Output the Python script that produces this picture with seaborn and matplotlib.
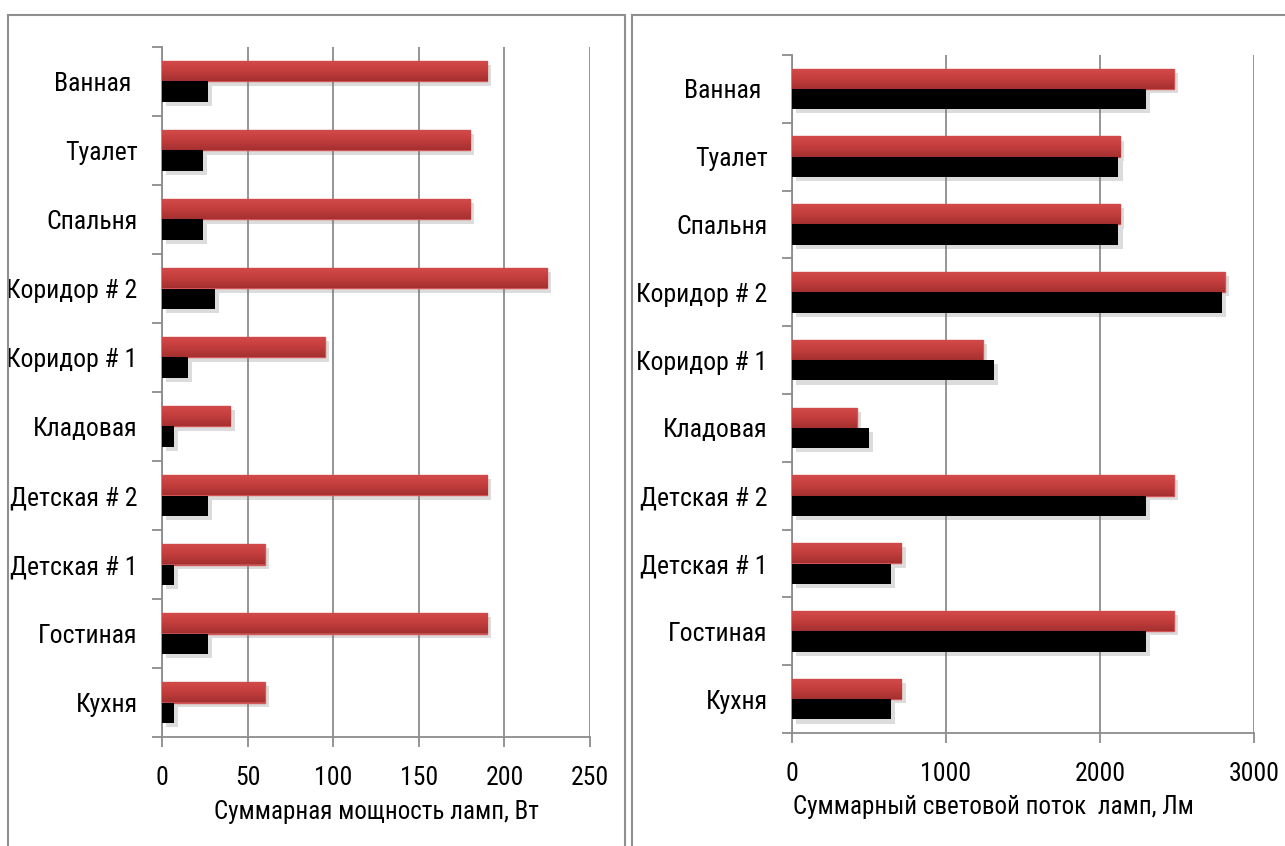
import numpy as np
import pandas as pd
import matplotlib
matplotlib.use('Agg')
import matplotlib.pyplot as plt
import matplotlib.patheffects as pe
from matplotlib.colors import LinearSegmentedColormap
from matplotlib.patches import Rectangle
from matplotlib import font_manager
import seaborn as sns

# Data
rooms = ['Ванная ', 'Туалет', 'Спальня', 'Коридор # 2', 'Коридор # 1',
         'Кладовая', 'Детская # 2', 'Детская # 1', 'Гостиная', 'Кухня']
series = ['Лампы накаливания', 'Светодиодные лампы']
power_incand = [190, 180, 180, 225, 95, 40, 190, 60, 190, 60]
power_led = [27, 24, 24, 31, 15, 7, 27, 7, 27, 7]
flux_incand = [2480, 2130, 2130, 2810, 1240, 420, 2480, 710, 2480, 710]
flux_led = [2300, 2120, 2120, 2790, 1310, 500, 2300, 640, 2300, 640]
power_ticks = [0, 50, 100, 150, 200, 250]
flux_ticks = [0, 1000, 2000, 3000]

sns.set_style('white')

# look for a narrow sans font (the original uses Arial Narrow)
fonts = font_manager.fontManager.ttflist
names = {f.name for f in fonts}
stretch = 'normal'
family = None
for cand in ['Liberation Sans Narrow', 'Arial Narrow', 'Roboto Condensed',
             'Open Sans Condensed', 'DejaVu Sans Condensed', 'Noto Sans Condensed']:
    if cand in names:
        family = cand
        break
if family is None:
    for f in fonts:
        if f.name in ('Roboto', 'Noto Sans', 'Open Sans', 'DejaVu Sans', 'Liberation Sans') \
                and str(f.stretch) in ('condensed', 'semi-condensed', '300', '400', '500') \
                and f.style == 'normal' and f.weight in (400, 'normal', 'regular'):
            family = f.name
            stretch = f.stretch
            break
if family is None:
    family = 'Liberation Sans'
    fs = 15
else:
    fs = 18.5
plt.rcParams['font.family'] = [family, 'DejaVu Sans']
plt.rcParams['font.stretch'] = stretch
plt.rcParams['text.color'] = 'black'
plt.rcParams['xtick.color'] = 'black'
plt.rcParams['ytick.color'] = 'black'

GRID = '#8c8c8c'
RED = '#c43e3e'
red_grad = LinearSegmentedColormap.from_list('red_grad', ['#d44a4a', '#c43e3e', '#a53030'])


def long_table(a, b):
    return pd.DataFrame({
        'room': rooms * 2,
        'kind': [series[0]] * len(rooms) + [series[1]] * len(rooms),
        'value': list(a) + list(b),
    })


def draw(ax, df, ticks, xlabel, label_x):
    sns.barplot(data=df, y='room', x='value', hue='kind', order=rooms,
                hue_order=series, palette=[RED, 'black'], width=0.6, gap=0,
                orient='h', legend=False, ax=ax, zorder=3)
    ax.set_xlim(ticks[0], ticks[-1])
    ax.set_ylim(len(rooms) - 0.5, -0.5)
    ax.set_xticks(ticks)
    ax.set_xticklabels([str(t) for t in ticks], fontsize=fs)
    ax.set_yticks(range(len(rooms)))
    ax.set_yticklabels(rooms, fontsize=fs)
    ax.set_yticks(np.arange(-0.5, len(rooms)), minor=True)
    ax.tick_params(axis='y', which='major', length=0, pad=17.5, labelcolor='black')
    ax.tick_params(axis='y', which='minor', length=7, width=1.3, color=GRID, direction='out', left=True)
    ax.tick_params(axis='x', which='major', length=7, width=1.3, color=GRID, direction='out',
                   bottom=True, pad=14, labelcolor='black')
    ax.set_ylabel('')
    ax.set_xlabel(xlabel, fontsize=fs - 0.5, color='black')
    ax.xaxis.set_label_coords(label_x, -0.092, transform=ax.transAxes)
    ax.xaxis.label.set_va('top')
    ax.grid(axis='x', color=GRID, linewidth=1.3, zorder=0)
    ax.grid(axis='y', visible=False)
    for side in ['top', 'right']:
        ax.spines[side].set_visible(False)
    for side in ['left', 'bottom']:
        ax.spines[side].set_color(GRID)
        ax.spines[side].set_linewidth(1.3)
    ax.set_axisbelow(True)

    shadow = [pe.SimplePatchShadow(offset=(3, -3), shadow_rgbFace='#777777', alpha=0.25), pe.Normal()]
    for bar in ax.containers[1]:
        bar.set_linewidth(0)
        bar.set_path_effects(shadow)
    for bar in ax.containers[0]:
        bar.set_edgecolor('#d65454')
        bar.set_linewidth(1.0)
        bar.set_path_effects(shadow)
        x0, y0 = bar.get_x(), bar.get_y()
        w, h = bar.get_width(), bar.get_height()
        im = ax.imshow(np.linspace(0, 1, 64).reshape(-1, 1), cmap=red_grad,
                       extent=(x0, x0 + w, y0 + h, y0), origin='upper',
                       aspect='auto', zorder=3.5)
        im.set_clip_path(bar)
    ax.set_xlim(ticks[0], ticks[-1])
    ax.set_ylim(len(rooms) - 0.5, -0.5)


fig = plt.figure(figsize=(12.85, 8.46), dpi=100)
ax1 = fig.add_axes([162 / 1285, 1 - 737 / 846, 428 / 1285, 690 / 846])
ax2 = fig.add_axes([792 / 1285, 1 - 733 / 846, 462 / 1285, 678 / 846])

draw(ax1, long_table(power_incand, power_led), power_ticks,
     'Суммарная мощность ламп, Вт', 0.5)
draw(ax2, long_table(flux_incand, flux_led), flux_ticks,
     'Суммарный световой поток  ламп, Лм', 0.435)

# panel frames
W, H = 1285, 846
fig.add_artist(Rectangle((8 / W, -0.05), (625 - 8) / W, 1.05 - 15 / H,
                         transform=fig.transFigure, fill=False, edgecolor='#8f8f8f', linewidth=1.5))
fig.add_artist(Rectangle((632 / W, -0.05), 0.6, 1.05 - 15 / H,
                         transform=fig.transFigure, fill=False, edgecolor='#8f8f8f', linewidth=1.5))

fig.savefig('out.png', dpi=100)
